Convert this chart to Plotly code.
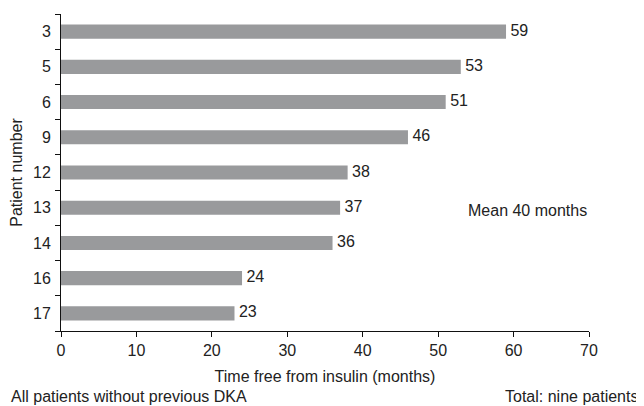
import plotly.graph_objects as go

patients = ["3", "5", "6", "9", "12", "13", "14", "16", "17"]
months = [59, 53, 51, 46, 38, 37, 36, 24, 23]
x_ticks = [0, 10, 20, 30, 40, 50, 60, 70]

font = "Liberation Sans, Arial, sans-serif"
txt = "#222222"
FS = 16

# page body has an 8px margin, so the figure is 8px smaller than the window
W, H = 636, 398
L, R, T, B = 53, 55, 6, 75
PW, PH = W - L - R, H - T - B

fig = go.Figure()
fig.add_trace(go.Bar(
    y=patients, x=months, orientation="h",
    marker=dict(color="#999a9c", line=dict(width=0)),
    width=0.4, hoverinfo="x+y",
))
fig.add_trace(go.Scatter(
    y=patients, x=months, mode="text",
    text=[" " + str(v) for v in months], textposition="middle right",
    textfont=dict(family=font, size=FS, color=txt),
    cliponaxis=False, hoverinfo="skip",
))

fig.update_layout(
    width=W, height=H,
    margin=dict(l=L, r=R, t=T, b=B),
    plot_bgcolor="white", paper_bgcolor="white",
    showlegend=False,
    font=dict(family=font, size=FS, color=txt),
    xaxis=dict(range=[0, 70], tickvals=x_ticks, showgrid=False, zeroline=False,
               showline=True, linecolor="#111", linewidth=1, automargin=False,
               ticks="outside", ticklen=5, tickcolor="#111",
               title=dict(text="Time free from insulin (months)", standoff=12,
                          font=dict(size=FS)),
               tickfont=dict(size=FS)),
    yaxis=dict(categoryorder="array", categoryarray=patients[::-1], automargin=False,
               showgrid=False, zeroline=False, showline=True, linecolor="#111", linewidth=1,
               ticks="outside", ticklen=5, tickcolor="#111", tickson="boundaries",
               ticklabelstandoff=6,
               title=dict(text="Patient number", standoff=10, font=dict(size=FS)),
               tickfont=dict(size=FS)),
    annotations=[
        dict(text="Mean 40 months", x=0.884, y=0.379, xref="paper", yref="paper",
             xanchor="center", yanchor="middle",
             showarrow=False, font=dict(size=FS, color=txt)),
        dict(text="All patients without previous DKA", x=-(L - 1) / PW, y=-65 / PH,
             xref="paper", yref="paper", xanchor="left", yanchor="middle",
             showarrow=False, font=dict(size=FS, color=txt)),
        dict(text="Total: nine patients", x=1 + (R - 4) / PW, y=-65 / PH,
             xref="paper", yref="paper", xanchor="right", yanchor="middle",
             showarrow=False, font=dict(size=FS, color=txt)),
    ],
)

fig.write_html("out.html")
